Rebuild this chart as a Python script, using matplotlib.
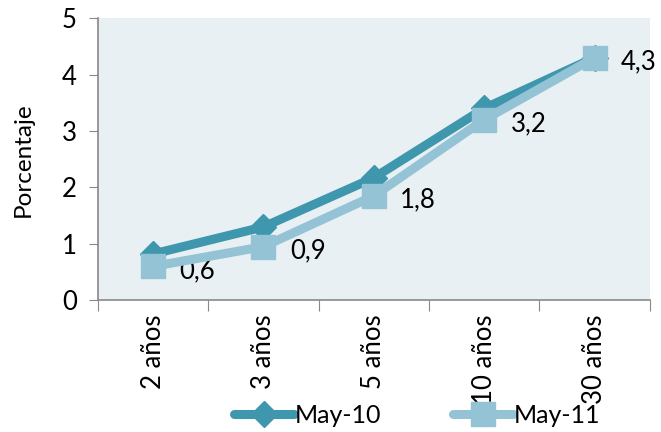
import numpy as np
import matplotlib
matplotlib.use("Agg")
import matplotlib.pyplot as plt

plt.rcParams['font.family'] = ['Lato', 'DejaVu Sans']

categorias = ["2 años", "3 años", "5 años", "10 años", "30 años"]
may10 = [0.82, 1.3, 2.17, 3.4, 4.3]
may11 = [0.6, 0.95, 1.85, 3.2, 4.3]
etiquetas = ["0,6", "0,9", "1,8", "3,2", "4,3"]

fig = plt.figure(figsize=(6.61, 4.32), dpi=100)
ax = fig.add_axes([0.148, 0.305, 0.835, 0.653])
ax.set_facecolor("#E8F0F4")  # fondo del área

x = np.arange(len(categorias))
ax.plot(x, may10, color="#3F97AE", lw=6.5, marker="D", ms=13, label="May-10",
        solid_capstyle="round", zorder=3)
ax.plot(x, may11, color="#93C3D5", lw=6.5, marker="s", ms=17, label="May-11",
        solid_capstyle="round", zorder=4)

# etiquetas de datos de May-11
for xi, yi, t in zip(x, may11, etiquetas):
    ax.annotate(t, (xi, yi), xytext=(19, -3), textcoords="offset points",
                fontsize=18.5, va="center", ha="left", color="black")

ax.set_xlim(-0.5, 4.5)
ax.set_ylim(0, 5)
ax.set_yticks(range(6))
ax.set_xticks(np.arange(-0.5, 5, 1), minor=False)  # marcas entre categorías
ax.set_xticklabels([])
ax.set_xticks(x, minor=True)
ax.set_xticklabels(categorias, minor=True, rotation=90, fontsize=18.5)
ax.tick_params(axis="x", which="minor", length=0, pad=10)
ax.tick_params(axis="x", which="major", length=8, color="#888888")
ax.tick_params(axis="y", labelsize=18.5, length=6.5, color="#888888", pad=8.5)
ax.set_ylabel("Porcentaje", fontsize=17.5, labelpad=20)

for lado in ["top", "right"]:
    ax.spines[lado].set_visible(False)
for lado in ["left", "bottom"]:
    ax.spines[lado].set_color("#888888")
    ax.spines[lado].set_linewidth(1.2)

fig.legend(loc="lower center", bbox_to_anchor=(0.631, -0.04), ncol=2, frameon=False,
           fontsize=18, handlelength=2.4, handletextpad=0.0, columnspacing=2.9)

fig.savefig("out.png", dpi=100)
